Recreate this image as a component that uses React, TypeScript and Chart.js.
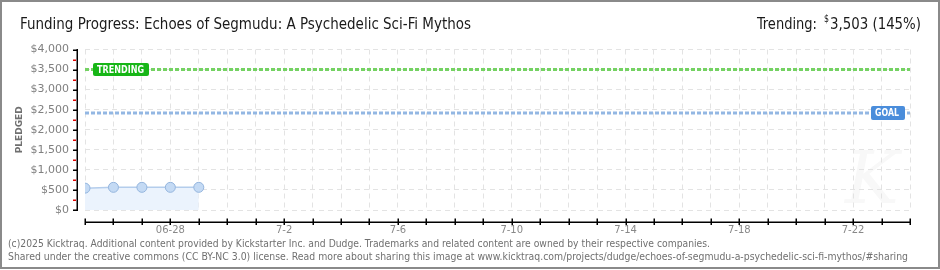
import React, { useEffect, useRef } from 'react';
import { Chart, registerables } from 'chart.js';

Chart.register(...registerables);

const TITLE = 'Funding Progress: Echoes of Segmudu: A Psychedelic Sci-Fi Mythos';
const TRENDING_LABEL = 'Trending:';
const TRENDING_VALUE = 3503;
const TRENDING_PCT = 145;
const GOAL_VALUE = 2415;

// one entry per day, 6-25 .. 7-24 ('' = tick without label)
const X_LABELS = [
  '', '', '', '06-28', '', '', '', '7-2', '', '', '', '7-6', '', '', '', '7-10',
  '', '', '', '7-14', '', '', '', '7-18', '', '', '', '7-22', '', '',
];
const PLEDGED_DAYS = [0, 1, 2, 3, 4];
const PLEDGED_VALUES = [545, 565, 565, 565, 565];
const Y_MAX = 4000;
const Y_STEP = 500;

const FOOTER_LINES = [
  '(c)2025 Kicktraq. Additional content provided by Kickstarter Inc. and Dudge. Trademarks and related content are owned by their respective companies.',
  'Shared under the creative commons (CC BY-NC 3.0) license. Read more about sharing this image at www.kicktraq.com/projects/dudge/echoes-of-segmudu-a-psychedelic-sci-fi-mythos/#sharing',
];

const NARROW = '"Liberation Sans Narrow", "DejaVu Sans Condensed", "Noto Sans", sans-serif';

function fitText(ctx: CanvasRenderingContext2D, text: string, x: number, y: number, width: number) {
  const w = ctx.measureText(text).width;
  ctx.save();
  ctx.translate(x, y);
  ctx.scale(width / w, 1);
  ctx.textAlign = 'left';
  ctx.fillText(text, 0, 0);
  ctx.restore();
}

function roundRect(ctx: CanvasRenderingContext2D, x: number, y: number, w: number, h: number, r: number) {
  ctx.beginPath();
  ctx.moveTo(x + r, y);
  ctx.lineTo(x + w - r, y);
  ctx.quadraticCurveTo(x + w, y, x + w, y + r);
  ctx.lineTo(x + w, y + h - r);
  ctx.quadraticCurveTo(x + w, y + h, x + w - r, y + h);
  ctx.lineTo(x + r, y + h);
  ctx.quadraticCurveTo(x, y + h, x, y + h - r);
  ctx.lineTo(x, y + r);
  ctx.quadraticCurveTo(x, y, x + r, y);
  ctx.closePath();
}

const decorPlugin = {
  id: 'decor',
  beforeDraw(chart: any) {
    const ctx = chart.ctx as CanvasRenderingContext2D;
    ctx.save();
    ctx.fillStyle = '#ffffff';
    ctx.fillRect(0, 0, chart.width, chart.height);
    // faint watermark
    ctx.strokeStyle = '#f3f3f3';
    ctx.lineWidth = 6;
    ctx.font = 'italic 72px "DejaVu Serif", serif';
    ctx.textAlign = 'center';
    ctx.textBaseline = 'alphabetic';
    ctx.fillStyle = '#f8f8f8';
    ctx.fillText('K', 872, 203);
    ctx.restore();
  },
  afterDatasetsDraw(chart: any) {
    const ctx = chart.ctx as CanvasRenderingContext2D;
    const x = chart.scales.x;
    const y = chart.scales.y;
    const area = chart.chartArea;
    ctx.save();
    // TRENDING label
    const ty = y.getPixelForValue(TRENDING_VALUE);
    ctx.fillStyle = '#17b617';
    roundRect(ctx, area.left + 8, ty - 6.5, 56, 13, 2);
    ctx.fill();
    ctx.fillStyle = '#ffffff';
    ctx.font = 'bold 10px "DejaVu Sans", sans-serif';
    ctx.textBaseline = 'middle';
    fitText(ctx, 'TRENDING', area.left + 12, ty + 0.5, 47);
    // GOAL label
    const gy = y.getPixelForValue(GOAL_VALUE);
    ctx.fillStyle = '#4a8ddb';
    roundRect(ctx, area.right - 39, gy - 7, 34, 14, 2);
    ctx.fill();
    ctx.fillStyle = '#ffffff';
    fitText(ctx, 'GOAL', area.right - 35, gy + 0.5, 24);

    // Y axis line + ticks (offset from plot)
    const axX = area.left - 8;
    ctx.fillStyle = '#000000';
    ctx.fillRect(axX - 0.5, area.top - 0.5, 1.5, area.bottom - area.top + 1.5);
    for (let v = 0; v <= Y_MAX; v += Y_STEP / 2) {
      const py = Math.round(y.getPixelForValue(v));
      if (v % Y_STEP === 0) {
        ctx.fillStyle = '#000000';
        ctx.fillRect(axX - 4, py - 0.5, 4, 1.5);
      } else {
        ctx.fillStyle = '#e00000';
        ctx.fillRect(axX - 4, py - 0.5, 3, 1.5);
      }
    }
    // X axis line + ticks
    const axY = area.bottom + 11.5;
    ctx.fillStyle = '#000000';
    ctx.fillRect(area.left, axY, area.right - area.left + 1, 1.5);
    for (let d = 0; d < X_LABELS.length; d++) {
      const px = Math.round(x.getPixelForValue(d));
      ctx.fillRect(px - 0.5, axY - 3, 1.5, 6.5);
    }
    ctx.restore();
  },
  afterDraw(chart: any) {
    const ctx = chart.ctx as CanvasRenderingContext2D;
    ctx.save();
    ctx.textBaseline = 'alphabetic';
    // title
    ctx.fillStyle = '#1a1a1a';
    ctx.font = `15px ${NARROW}`;
    fitText(ctx, TITLE, 20, 29, 451);
    // trending
    ctx.font = `16px ${NARROW}`;
    fitText(ctx, TRENDING_LABEL, 757, 29, 60);
    ctx.font = `10px ${NARROW}`;
    fitText(ctx, '$', 824, 22, 5);
    ctx.font = `16px ${NARROW}`;
    const val = TRENDING_VALUE.toLocaleString('en-US') + ' (' + TRENDING_PCT + '%)';
    fitText(ctx, val, 830, 29, 91);
    // footer
    ctx.fillStyle = '#707070';
    ctx.font = '10px "DejaVu Sans", sans-serif';
    fitText(ctx, FOOTER_LINES[0], 8, 247, 702);
    fitText(ctx, FOOTER_LINES[1], 8, 259.5, 900);
    // frame
    ctx.strokeStyle = '#8a8a8a';
    ctx.lineWidth = 2;
    ctx.strokeRect(1, 1, 938, 267);
    ctx.restore();
  },
};

export default function App() {
  const ref = useRef<HTMLCanvasElement | null>(null);
  useEffect(() => {
    document.body.style.margin = '0';
    const canvas = ref.current;
    if (!canvas) return;
    const chart = new Chart(canvas, {
      type: 'line',
      data: {
        datasets: [
          {
            label: 'Trending',
            data: [{ x: 0, y: TRENDING_VALUE }, { x: X_LABELS.length - 1, y: TRENDING_VALUE }],
            borderColor: '#74d262',
            borderWidth: 3,
            borderDash: [4, 2],
            pointRadius: 0,
            fill: false,
          },
          {
            label: 'Goal',
            data: [{ x: 0, y: GOAL_VALUE }, { x: X_LABELS.length - 1, y: GOAL_VALUE }],
            borderColor: '#93b7e3',
            borderWidth: 3,
            borderDash: [4, 2],
            pointRadius: 0,
            fill: false,
          },
          {
            label: 'Pledged',
            data: PLEDGED_DAYS.map((d, i) => ({ x: d, y: PLEDGED_VALUES[i] })),
            borderColor: '#b4cdec',
            borderWidth: 1.5,
            backgroundColor: '#ebf3fd',
            fill: 'origin',
            pointRadius: 5,
            pointBackgroundColor: '#c4daf4',
            pointBorderColor: '#94b5de',
            pointBorderWidth: 1,
            tension: 0,
          },
        ],
      },
      options: {
        animation: false,
        responsive: false,
        devicePixelRatio: 1,
        layout: { padding: { top: 49.5, right: 30, bottom: 0, left: 0 } },
        plugins: { legend: { display: false }, tooltip: { enabled: false }, title: { display: false } },
        scales: {
          x: {
            type: 'linear',
            min: 0,
            max: X_LABELS.length - 1,
            afterFit: (s: any) => { s.height = 60; },
            ticks: {
              stepSize: 1,
              autoSkip: false,
              maxRotation: 0,
              padding: 14,
              color: '#888888',
              font: { family: '"DejaVu Sans", sans-serif', size: 10 },
              callback: (v: any) => X_LABELS[v] ?? '',
            },
            grid: { color: '#e3e3e3', drawTicks: false, lineWidth: 1 },
            border: { display: false, dash: [5, 4] },
          },
          y: {
            min: 0,
            max: Y_MAX,
            afterFit: (s: any) => { s.width = 85; },
            ticks: {
              stepSize: Y_STEP,
              padding: 16,
              color: '#808080',
              font: { family: '"DejaVu Sans", sans-serif', size: 11 },
              callback: (v: any) => '$' + Number(v).toLocaleString('en-US'),
            },
            grid: { color: '#e3e3e3', drawTicks: false, lineWidth: 1 },
            border: { display: false, dash: [5, 4] },
            title: {
              display: true,
              text: 'PLEDGED',
              color: '#707070',
              font: { family: '"DejaVu Sans", sans-serif', size: 9, weight: 'bold' },
              padding: { top: 14, bottom: 0 },
            },
          },
        },
      },
      plugins: [decorPlugin],
    } as any);
    return () => chart.destroy();
  }, []);
  return (
    <div style={{ position: 'relative', width: 940, height: 270 }}>
      <canvas ref={ref} width={940} height={270} style={{ display: 'block' }} />
    </div>
  );
}
